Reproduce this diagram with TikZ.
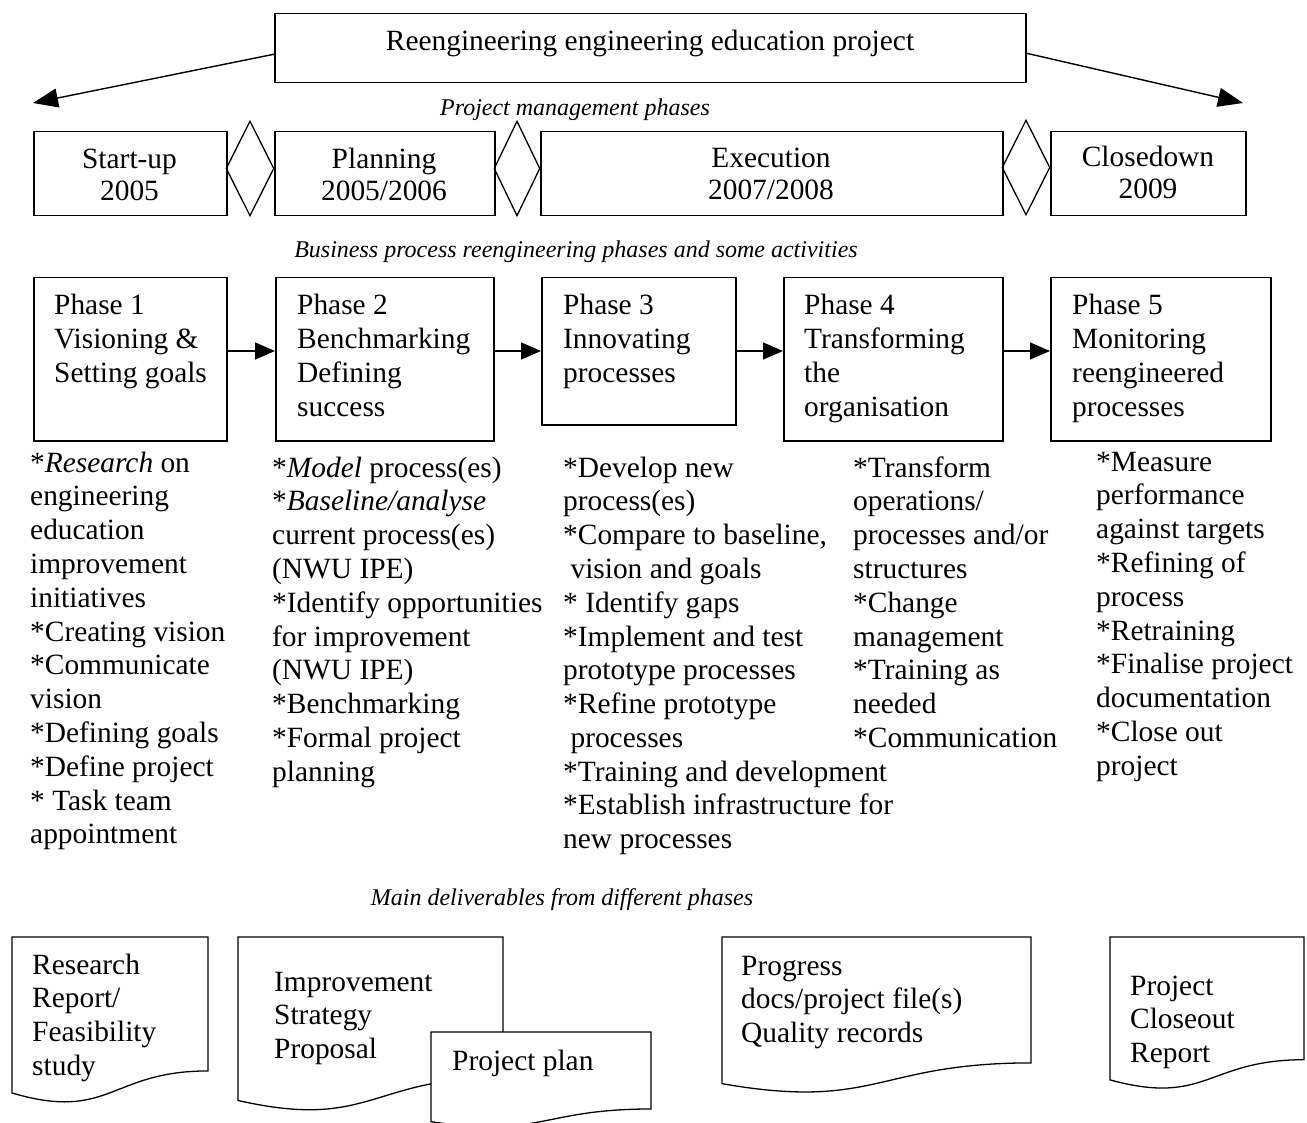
\documentclass[tikz,border=0pt]{standalone}
\usepackage{fontspec}
\setmainfont{Liberation Serif}
\usetikzlibrary{arrows.meta,shapes.geometric}

% stacked lines: first baseline is the node's baseline
\newcommand\rows[2]{\vtop{\baselineskip=#1\lineskiplimit=-\maxdimen\lineskip=0pt #2}}
\newcommand\lrow[1]{\hbox{#1}}
\newcommand\crow[1]{\hbox to 0pt{\hss#1\hss}}

% document symbol with a wavy lower edge
\newcommand\docshape[6]{%
  \coordinate (#1) at (#2,#3);
  \draw[docline,#6] (#1) -- ++(#4,0) -- ++(0,{0.802*#5})
    .. controls ++({-0.5*#4},0) and ({#2+0.5*#4},{#3+1.107*#5}) .. ({#2},{#3+0.934*#5}) -- cycle;}

\tikzset{
  body/.style={font=\fontsize{29.4}{33.8}\selectfont, inner sep=0pt},
  caption/.style={font=\fontsize{24}{28}\selectfont\itshape, inner sep=0pt, anchor=base},
  frame/.style={draw, line width=1.5pt, inner sep=0pt, anchor=north west},
  gate/.style={draw, diamond, line width=1.3pt, inner sep=0pt, minimum width=48pt, minimum height=95pt},
  bigarrow/.style={line width=1.4pt, -{Triangle[length=25pt,width=19pt]}},
  flowarrow/.style={line width=1.4pt, -{Triangle[length=20pt,width=17pt]}},
  docline/.style={line width=1.3pt}
}

\begin{document}
\begin{tikzpicture}[x=1pt,y=-1pt]
\fill[white] (0,0) rectangle (1307,1123);
\useasboundingbox (0,0) rectangle (1307,1123);

% ---------- project title ----------
\node[frame, minimum width=751pt, minimum height=69pt] (title) at (274,13) {};
\node[body, anchor=base] (titletext) at (650,51) {Reengineering engineering education project};
\coordinate (leftend) at (33,103);
\coordinate (rightend) at (1243,103);
\draw[bigarrow] ([yshift=-6pt]title.west) -- (leftend);
\draw[bigarrow] ([yshift=-5pt]title.east) -- (rightend);

\node[caption] (pmcap) at (575,116) {Project management phases};

% ---------- project management phases ----------
\node[frame, minimum width=193pt, minimum height=84pt] (startup) at (33,131) {};
\node[frame, minimum width=220pt, minimum height=84pt] (planning) at (274,131) {};
\node[frame, minimum width=462pt, minimum height=84pt] (execution) at (540,131) {};
\node[frame, minimum width=195pt, minimum height=84pt] (closedown) at (1050,131) {};

\node[gate] (g1) at (250,168.5) {};
\node[gate, minimum width=46pt] (g2) at (517,168.5) {};
\node[gate] (g3) at (1026,167.5) {};

\node[body, anchor=base] (startuptext) at (129.5,169) {\rows{32pt}{\crow{Start-up}\crow{2005}}};
\node[body, anchor=base] (planningtext) at (384,169) {\rows{32pt}{\crow{Planning}\crow{2005/2006}}};
\node[body, anchor=base] (executiontext) at (771,168) {\rows{32pt}{\crow{Execution}\crow{2007/2008}}};
\node[body, anchor=base] (closedowntext) at (1148,167) {\rows{32pt}{\crow{Closedown}\crow{2009}}};

\node[caption] (bprcap) at (576,258) {Business process reengineering phases and some activities};

% ---------- reengineering phases ----------
\node[frame, minimum width=193pt, minimum height=163pt] (p1) at (33,277) {};
\node[frame, minimum width=218pt, minimum height=163pt] (p2) at (275,277) {};
\node[frame, minimum width=194pt, minimum height=147pt] (p3) at (541,277) {};
\node[frame, minimum width=219pt, minimum height=163pt] (p4) at (783,277) {};
\node[frame, minimum width=220pt, minimum height=163pt] (p5) at (1050,277) {};

\coordinate (flowy) at (0,351);
\draw[flowarrow] (p1.east |- flowy) -- (p2.west |- flowy);
\draw[flowarrow] (p2.east |- flowy) -- (p3.west |- flowy);
\draw[flowarrow] (p3.east |- flowy) -- (p4.west |- flowy);
\draw[flowarrow] (p4.east |- flowy) -- (p5.west |- flowy);

\node[body, anchor=base west] (p1text) at (54,315) {\rows{34pt}{\lrow{Phase 1}\lrow{Visioning \&}\lrow{Setting goals}}};
\node[body, anchor=base west] (p2text) at (297,315) {\rows{34pt}{\lrow{Phase 2}\lrow{Benchmarking}\lrow{Defining}\lrow{success}}};
\node[body, anchor=base west] (p3text) at (563,315) {\rows{34pt}{\lrow{Phase 3}\lrow{Innovating}\lrow{processes}}};
\node[body, anchor=base west] (p4text) at (804,315) {\rows{34pt}{\lrow{Phase 4}\lrow{Transforming}\lrow{the}\lrow{organisation}}};
\node[body, anchor=base west] (p5text) at (1072,315) {\rows{34pt}{\lrow{Phase 5}\lrow{Monitoring}\lrow{reengineered}\lrow{processes}}};

% ---------- activities ----------
\node[body, anchor=base west] (a1) at (30,472) {\rows{33.8pt}{%
  \lrow{*\textit{Research} on}
  \lrow{engineering}
  \lrow{education}
  \lrow{improvement}
  \lrow{initiatives}
  \lrow{*Creating vision}
  \lrow{*Communicate}
  \lrow{vision}
  \lrow{*Defining goals}
  \lrow{*Define project}
  \lrow{* Task team}
  \lrow{appointment}}};

\node[body, anchor=base west] (a2) at (272,477) {\rows{33.8pt}{%
  \lrow{*\textit{Model} process(es)}
  \lrow{*\textit{Baseline/analyse}}
  \lrow{current process(es)}
  \lrow{(NWU IPE)}
  \lrow{*Identify opportunities}
  \lrow{for improvement}
  \lrow{(NWU IPE)}
  \lrow{*Benchmarking}
  \lrow{*Formal project}
  \lrow{planning}}};

\node[body, anchor=base west] (a3) at (563,477) {\rows{33.8pt}{%
  \lrow{*Develop new}
  \lrow{process(es)}
  \lrow{*Compare to baseline,}
  \lrow{\ vision and goals}
  \lrow{* Identify gaps}
  \lrow{*Implement and test}
  \lrow{prototype processes}
  \lrow{*Refine prototype}
  \lrow{\ processes}
  \lrow{*Training and development}
  \lrow{*Establish infrastructure for}
  \lrow{new processes}}};

\node[body, anchor=base west] (a4) at (853,477) {\rows{33.8pt}{%
  \lrow{*Transform}
  \lrow{operations/}
  \lrow{processes and/or}
  \lrow{structures}
  \lrow{*Change}
  \lrow{management}
  \lrow{*Training as}
  \lrow{needed}
  \lrow{*Communication}}};

\node[body, anchor=base west] (a5) at (1096,471) {\rows{33.8pt}{%
  \lrow{*Measure}
  \lrow{performance}
  \lrow{against targets}
  \lrow{*Refining of}
  \lrow{process}
  \lrow{*Retraining}
  \lrow{*Finalise project}
  \lrow{documentation}
  \lrow{*Close out}
  \lrow{project}}};

\node[caption] (delcap) at (562,905) {Main deliverables from different phases};

% ---------- deliverables ----------
\docshape{d1}{12}{937}{196}{167}{}
\docshape{d2}{238}{937}{265}{175}{}
\docshape{d5}{431}{1032}{220}{96}{fill=white}
\docshape{d3}{722}{937}{309}{157}{}
\docshape{d4}{1110}{937}{194}{153}{}

\node[body, anchor=base west] (d1text) at (32,974) {\rows{33.8pt}{\lrow{Research}\lrow{Report/}\lrow{Feasibility}\lrow{study}}};
\node[body, anchor=base west] (d2text) at (274,991) {\rows{33.8pt}{\lrow{Improvement}\lrow{Strategy}\lrow{Proposal}}};
\node[body, anchor=base west] (d5text) at (452,1070) {Project plan};
\node[body, anchor=base west] (d3text) at (741,975) {\rows{33.8pt}{\lrow{Progress}\lrow{docs/project file(s)}\lrow{Quality records}}};
\node[body, anchor=base west] (d4text) at (1130,995) {\rows{33.8pt}{\lrow{Project}\lrow{Closeout}\lrow{Report}}};
\end{tikzpicture}
\end{document}
